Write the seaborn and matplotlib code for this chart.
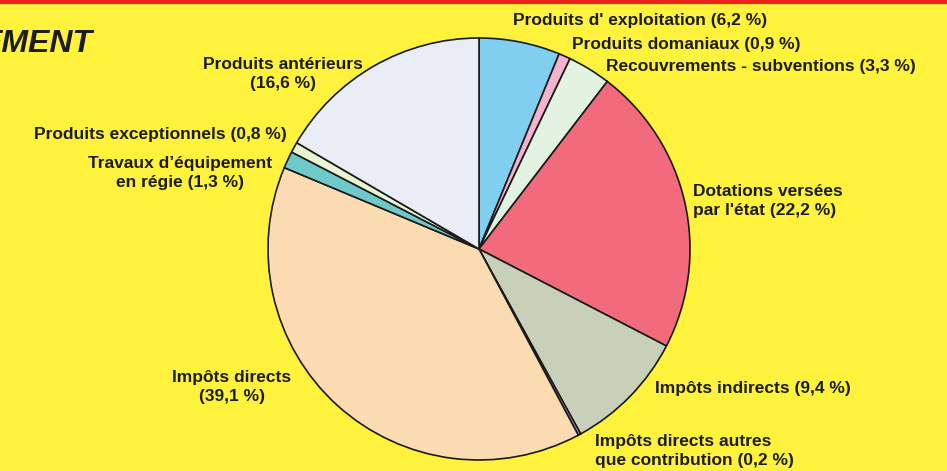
import matplotlib.pyplot as plt
import seaborn as sns

# budget shares, clockwise from 12 o'clock
categories = [
    "Produits d' exploitation",
    "Produits domaniaux",
    "Recouvrements - subventions",
    "Dotations versées\npar l'état",
    "Impôts indirects",
    "Impôts directs autres\nque contribution",
    "Impôts directs",
    "Travaux d\u2019équipement\nen régie",
    "Produits exceptionnels",
    "Produits antérieurs",
]
shares = [6.2, 0.9, 3.3, 22.2, 9.4, 0.2, 39.1, 1.3, 0.8, 16.6]
label_texts = [
    "Produits d' exploitation (6,2 %)",
    "Produits domaniaux (0,9 %)",
    "Recouvrements - subventions (3,3 %)",
    "Dotations versées\npar l'état (22,2 %)",
    "Impôts indirects (9,4 %)",
    "Impôts directs autres\nque contribution (0,2 %)",
    "Impôts directs\n(39,1 %)",
    "Travaux d\u2019équipement\nen régie (1,3 %)",
    "Produits exceptionnels (0,8 %)",
    "Produits antérieurs\n(16,6 %)",
]

wedge_colors = [
    "#80cff0", "#f4b2cf", "#e2f3e2", "#f26b7c", "#c9d0ba",
    "#b9aae2", "#fbdcb2", "#6fc9cb", "#e9f4d2", "#e9edf5",
]

# label placement in pixel coords (x, y from top, ha)
label_pos = [
    (513, 20, "left"),
    (572, 45, "left"),
    (606, 67, "left"),
    (693, 201, "left"),
    (655, 388, "left"),
    (595, 451, "left"),
    (232, 387, "center"),
    (272, 173, "right"),
    (287, 134, "right"),
    (283, 74, "center"),
]

sns.set_theme(style="white")
plt.rcParams["font.family"] = ["Liberation Sans", "DejaVu Sans"]

W, H = 947, 471
bg = "#fff23c"
fig = plt.figure(figsize=(W / 100, H / 100), dpi=100, facecolor=bg)
ax = fig.add_axes([0, 0, 1, 1])
ax.set_facecolor(bg)

ax.pie(
    shares,
    colors=sns.color_palette(wedge_colors),
    startangle=90,
    counterclock=False,
    center=(479, H - 249),
    radius=211,
    frame=True,
    wedgeprops=dict(edgecolor="#1a1a1a", linewidth=1.2),
)
ax.set_xlim(0, W)
ax.set_ylim(0, H)
ax.set_aspect("equal")
ax.axis("off")

for txt, (x, y, ha) in zip(label_texts, label_pos):
    ax.text(x, H - y, txt, ha=ha, va="center",
            multialignment="center" if ha != "left" else "left",
            fontsize=12.5, fontweight="bold", color="#1c1c1c", linespacing=1.3)

# red rule at top edge and the clipped heading
ax.axhline(H - 1.5, color="#e8261e", linewidth=3)
ax.text(92, H - 44, "EMENT", ha="right", va="center", fontsize=23, fontweight="heavy",
        fontstyle="italic", color="#1c1c1c")

fig.savefig("out.png", dpi=100, facecolor=bg)
